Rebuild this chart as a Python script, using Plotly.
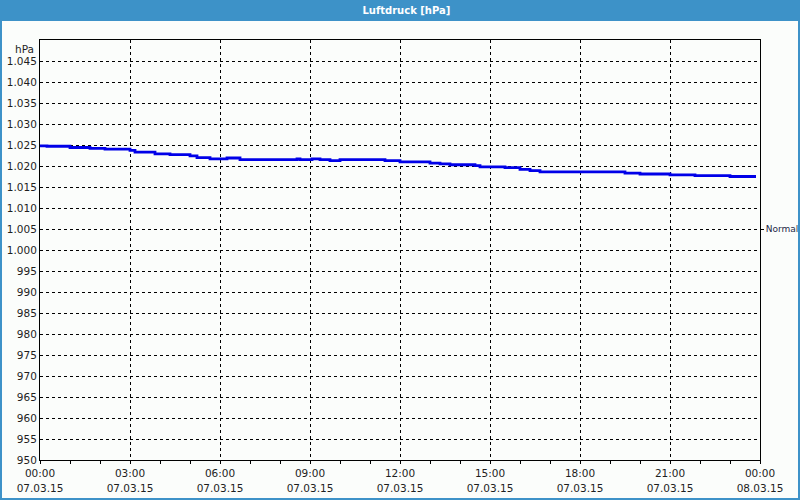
import plotly.graph_objects as go

# ---- data ----
times = ["00:00", "00:14", "01:00", "01:40", "02:10", "03:00", "03:10", "03:50",
         "04:20", "05:00", "05:14", "05:40", "06:14", "06:40", "08:34", "08:40",
         "09:04", "09:20", "09:40", "10:00", "11:30", "12:00", "13:00", "13:20",
         "13:40", "14:30", "14:40", "15:30", "16:00", "16:20", "16:40", "19:30",
         "20:00", "21:00", "21:50", "23:00", "23:52"]
pressure = [1024.8, 1024.7, 1024.4, 1024.2, 1024.0, 1023.7, 1023.3, 1022.9,
            1022.7, 1022.4, 1022.0, 1021.7, 1021.9, 1021.5, 1021.7, 1021.5,
            1021.7, 1021.5, 1021.3, 1021.5, 1021.3, 1021.0, 1020.7, 1020.5,
            1020.3, 1020.1, 1019.8, 1019.6, 1019.2, 1018.9, 1018.6, 1018.3,
            1018.1, 1017.9, 1017.7, 1017.5, 1017.5]
day = "2015-03-07"
x_tick_times = ["2015-03-07 00:00", "2015-03-07 03:00", "2015-03-07 06:00",
                "2015-03-07 09:00", "2015-03-07 12:00", "2015-03-07 15:00",
                "2015-03-07 18:00", "2015-03-07 21:00", "2015-03-08 00:00"]
x_tick_hours = ["00:00", "03:00", "06:00", "09:00", "12:00", "15:00", "18:00", "21:00", "00:00"]
x_tick_dates = ["07.03.15"] * 8 + ["08.03.15"]
y_ticks = list(range(950, 1050, 5))
y_ticktext = [f"{v:,}".replace(",", ".") for v in y_ticks]
normal_value = [1005]
normal_text = ["Normal"]

BLUE_BAR = "#3d92c8"
BG = "#fbfdfb"
TXT = "#1e1e1e"
FONT = "DejaVu Sans"

x_full = [f"{day} {t}" for t in times]

fig = go.Figure()
fig.add_trace(go.Scatter(x=x_full, y=pressure, mode="lines", line_shape="hv",
                         line=dict(color="#0000e8", width=2.8), hoverinfo="skip",
                         showlegend=False))
# helper trace so the overlay axes are drawn
fig.add_trace(go.Scatter(x=[], y=[], xaxis="x2", yaxis="y2", showlegend=False))

xrange = ["2015-03-07 00:00", "2015-03-08 00:00"]
fig.update_layout(
    width=800, height=500,
    margin=dict(l=40, r=40, t=40, b=40, autoexpand=False),
    paper_bgcolor=BG, plot_bgcolor=BG,
    font=dict(family=FONT, size=10, color=TXT),
    showlegend=False,
    xaxis=dict(type="date", range=xrange, tickvals=x_tick_times, ticktext=x_tick_hours,
               showline=True, linecolor="black", linewidth=1, mirror=True,
               showgrid=True, gridcolor="black", gridwidth=1, griddash="3px,3px",
               ticks="outside", ticklen=3, tickcolor="black",
               minor=dict(ticks="outside", ticklen=3, tickcolor="black", dtick=3600000,
                          showgrid=False),
               zeroline=False, automargin=False, tickfont=dict(size=10.5, color=TXT)),
    xaxis2=dict(type="date", range=xrange, overlaying="x", anchor="y", side="bottom",
                tickvals=x_tick_times, ticktext=x_tick_dates, showgrid=False,
                showline=False, ticks="", ticklabelstandoff=20, zeroline=False,
                automargin=False, tickfont=dict(size=10.5, color=TXT)),
    yaxis=dict(range=[950, 1050], tickvals=y_ticks, ticktext=y_ticktext,
               showline=True, linecolor="black", linewidth=1, mirror=True,
               showgrid=True, gridcolor="black", gridwidth=1, griddash="3px,3px",
               ticks="", zeroline=False, automargin=False,
               tickfont=dict(size=10.5, color=TXT)),
    yaxis2=dict(range=[950, 1050], overlaying="y", anchor="x", side="right",
                tickvals=normal_value, ticktext=normal_text, ticks="outside", ticklen=3,
                tickcolor="black", showgrid=False, showline=False, zeroline=False,
                automargin=False, ticklabelstandoff=0,
                tickfont=dict(size=9, color="#1c2846")),
    title=dict(text="<b>Luftdruck [hPa]</b>", x=0.508, xanchor="center",
               yref="container", y=1 - 10.5 / 500, yanchor="middle",
               automargin=False,
               font=dict(family=FONT, size=10, color="white")),
)

# title bar and outer border
fig.add_shape(type="rect", xref="paper", yref="paper",
              x0=-40 / 720, x1=760 / 720, y0=(460 - 21) / 420, y1=460 / 420,
              fillcolor=BLUE_BAR, line=dict(width=0), layer="below")
fig.add_shape(type="rect", xref="paper", yref="paper",
              x0=(1 - 40) / 720, x1=(799 - 40) / 720, y0=(460 - 499) / 420, y1=460 / 420,
              fillcolor="rgba(0,0,0,0)", line=dict(color=BLUE_BAR, width=2))
# unit label at the top of the value axis
fig.add_annotation(text="hPa", xref="paper", x=0, xanchor="right", xshift=-4,
                   yref="y", y=1050, yanchor="top", yshift=-1, showarrow=False,
                   font=dict(size=10.5, color=TXT))

fig.write_html("out.html", config={"displayModeBar": False})
